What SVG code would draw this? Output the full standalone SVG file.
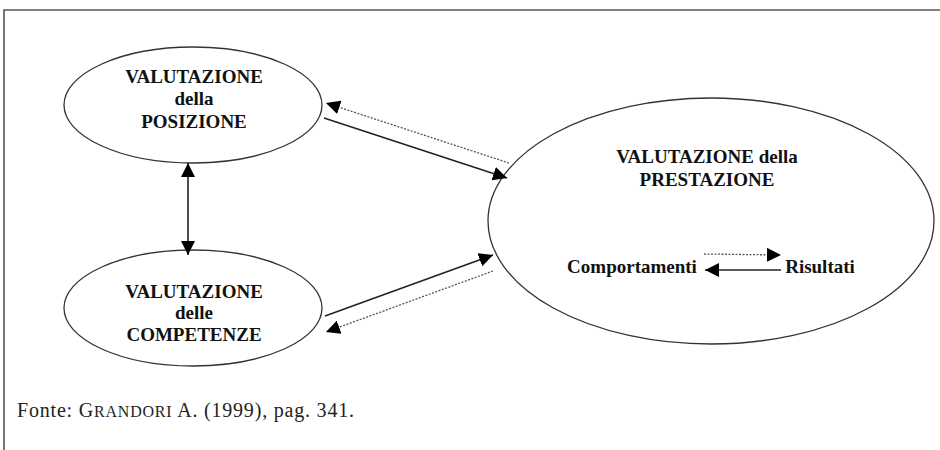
<svg xmlns="http://www.w3.org/2000/svg" width="940" height="450" viewBox="0 0 940 450">
<defs>
<style>
.node{fill:#fff;stroke:#333;stroke-width:1.3}
.t{font-family:"Liberation Serif","Times New Roman",serif;font-weight:bold;font-size:19px;fill:#111;text-anchor:middle}
.solid{stroke:#222;stroke-width:1.6;fill:none}
.dot{stroke:#555;stroke-width:1.3;stroke-dasharray:2 1.5;fill:none}
.foot{font-family:"Liberation Serif","Times New Roman",serif;font-size:20px;fill:#222;letter-spacing:0.8px}
</style>
<marker id="ah" viewBox="0 0 10 10" refX="10" refY="5" markerWidth="14" markerHeight="14" markerUnits="userSpaceOnUse" orient="auto-start-reverse">
<path d="M0,0 L10,5 L0,10 z" fill="#000"/>
</marker>
<marker id="ahd" viewBox="0 0 10 10" refX="10" refY="5" markerWidth="14" markerHeight="14" markerUnits="userSpaceOnUse" orient="auto">
<path d="M0,0 L10,5 L0,10 z" fill="#000" stroke="none"/>
</marker>
</defs>
<g id="frame">
<path d="M4,450 V10 H940" fill="none" stroke="#555" stroke-width="1.6"/>
</g>
<g id="posizione">
<ellipse class="node" cx="193" cy="105" rx="129" ry="58"/>
<text class="t" x="194" y="83">VALUTAZIONE</text>
<text class="t" x="194" y="105">della</text>
<text class="t" x="194" y="128">POSIZIONE</text>
</g>
<g id="competenze">
<ellipse class="node" cx="193" cy="308" rx="129" ry="58"/>
<text class="t" x="194" y="298">VALUTAZIONE</text>
<text class="t" x="194" y="319">delle</text>
<text class="t" x="194" y="341">COMPETENZE</text>
</g>
<g id="prestazione">
<ellipse class="node" cx="711" cy="221" rx="223" ry="123"/>
<text class="t" x="707" y="163">VALUTAZIONE della</text>
<text class="t" x="707" y="186">PRESTAZIONE</text>
<text class="t" x="632" y="273">Comportamenti</text>
<text class="t" x="820" y="273">Risultati</text>
</g>
<g id="connectors">
<line class="solid" x1="188" y1="163" x2="188" y2="255" marker-start="url(#ah)" marker-end="url(#ah)"/>
<line class="solid" x1="324" y1="118" x2="507" y2="178" marker-end="url(#ah)"/>
<line class="dot" x1="509" y1="163" x2="326" y2="103" marker-end="url(#ahd)"/>
<line class="solid" x1="325" y1="316" x2="493" y2="255" marker-end="url(#ah)"/>
<line class="dot" x1="493" y1="271" x2="326" y2="332" marker-end="url(#ahd)"/>
<line class="dot" x1="704" y1="254" x2="781" y2="255" marker-end="url(#ahd)"/>
<line class="solid" x1="781" y1="270" x2="705" y2="270" marker-end="url(#ah)"/>
</g>
<g id="footer">
<text class="foot" x="17" y="417">Fonte: G<tspan font-size="16">RANDORI</tspan> A. (1999), pag. 341.</text>
</g>
</svg>
